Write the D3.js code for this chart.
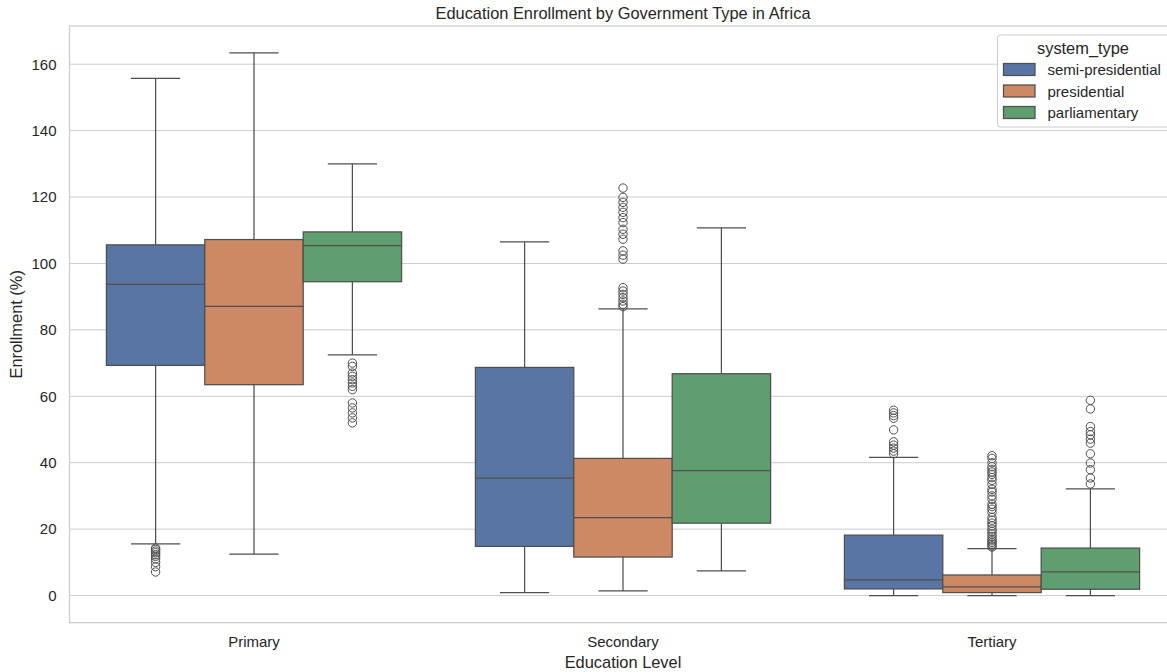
<!DOCTYPE html>
<html>
<head>
<meta charset="utf-8">
<script src="https://cdn.jsdelivr.net/npm/d3@7"></script>
<style>
  html, body { margin: 0; padding: 0; background: #fff; }
  svg { display: block; font-family: "Liberation Sans", Arial, Helvetica, sans-serif; }
</style>
</head>
<body>
<svg id="chart" width="1167" height="672"></svg>
<script>
// ---- data ----
const levels = ["Primary", "Secondary", "Tertiary"];
const systems = ["semi-presidential", "presidential", "parliamentary"];
const colors = ["#5875a4", "#cc8963", "#5f9e6e"];
const yTicks = [0, 20, 40, 60, 80, 100, 120, 140, 160];

// per system, values for [Primary, Secondary, Tertiary]
const whiskerLow = {
  "semi-presidential": [15.6, 0.9, 0.0],
  "presidential":      [12.5, 1.4, 0.0],
  "parliamentary":     [72.5, 7.4, 0.0]
};
const q1 = {
  "semi-presidential": [69.3, 14.8, 2.0],
  "presidential":      [63.5, 11.6, 0.9],
  "parliamentary":     [94.5, 21.8, 1.9]
};
const median = {
  "semi-presidential": [93.7, 35.4, 4.7],
  "presidential":      [87.1, 23.5, 2.6],
  "parliamentary":     [105.4, 37.6, 7.1]
};
const q3 = {
  "semi-presidential": [105.6, 68.7, 18.2],
  "presidential":      [107.2, 41.3, 6.2],
  "parliamentary":     [109.5, 66.8, 14.3]
};
const whiskerHigh = {
  "semi-presidential": [155.7, 106.5, 41.6],
  "presidential":      [163.4, 86.3, 14.1],
  "parliamentary":     [130.0, 110.7, 32.1]
};
const outliers = {
  "semi-presidential": [
    [14.3, 13.9, 13.4, 12.9, 12.3, 11.8, 11.0, 10.0, 8.7, 7.1],
    [],
    [55.8, 55.0, 54.2, 53.4, 49.9, 46.3, 45.3, 44.4, 43.5, 42.7]
  ],
  "presidential": [
    [],
    [122.7, 119.9, 118.4, 116.9, 115.4, 113.8, 112.3, 110.3, 108.8, 107.3,
     103.8, 102.5, 101.3, 92.7, 91.7, 90.7, 89.7, 88.7, 87.7, 87.0],
    [42.1, 41.3, 40.0, 38.8, 38.0, 37.2, 36.5, 35.5, 34.7, 33.5, 32.0, 31.2,
     30.0, 29.0, 27.5, 26.8, 26.0, 25.0, 23.5, 22.7, 21.8, 21.0, 20.0, 19.3,
     18.5, 17.8, 17.0, 16.5, 16.0, 15.5, 15.0, 14.6]
  ],
  "parliamentary": [
    [70.0, 69.0, 67.0, 66.0, 65.0, 64.0, 63.0, 62.0, 58.0, 56.5, 55.0, 53.5, 52.0],
    [],
    [58.8, 56.2, 50.9, 49.4, 48.4, 47.1, 45.9, 42.7, 39.9, 37.9, 35.4, 33.6]
  ]
};

// ---- layout ----
const svg = d3.select("#chart");
const plotLeft = 69.5, plotRight = 1176.5, plotTop = 26, plotBottom = 622.7;
const textColor = "#262626";
const lineColor = "#4f4f4f";
const gridColor = "#cccccc";
const fontFam = '"Liberation Sans", Arial, sans-serif';

const x = d3.scaleBand().domain(levels).range([plotLeft, plotRight]).paddingInner(0).paddingOuter(0);
const xSub = d3.scaleBand().domain(systems).range([-x.bandwidth() * 0.4, x.bandwidth() * 0.4]);
const y = d3.scaleLinear().domain([-8.17, 171.5]).range([plotBottom, plotTop]);

// grid
svg.append("g").selectAll("line").data(yTicks).join("line")
  .attr("x1", plotLeft).attr("x2", plotRight)
  .attr("y1", d => y(d)).attr("y2", d => y(d))
  .attr("stroke", gridColor).attr("stroke-width", 1);

// spines
svg.append("rect").attr("x", plotLeft).attr("y", plotTop)
  .attr("width", plotRight - plotLeft).attr("height", plotBottom - plotTop)
  .attr("fill", "none").attr("stroke", gridColor).attr("stroke-width", 1.25);

// y axis
const yAxis = d3.axisLeft(y).tickValues(yTicks).tickSize(0).tickPadding(13);
const gy = svg.append("g").attr("transform", `translate(${plotLeft},0)`).call(yAxis);
gy.select(".domain").remove();
gy.selectAll("text").attr("fill", textColor).style("font-size", "15px").style("font-family", fontFam);

// x axis
const xAxis = d3.axisBottom(x).tickSize(0).tickPadding(14);
const gx = svg.append("g").attr("transform", `translate(0,${plotBottom})`).call(xAxis);
gx.select(".domain").remove();
gx.selectAll("text").attr("fill", textColor).style("font-size", "15px").style("font-family", fontFam);

// boxes
const boxW = xSub.bandwidth();
const capW = boxW / 2;
systems.forEach((s, si) => {
  levels.forEach((lv, li) => {
    const cx = x(lv) + x.bandwidth() / 2 + xSub(s) + boxW / 2;
    const g = svg.append("g");
    // whiskers
    g.append("line").attr("x1", cx).attr("x2", cx)
      .attr("y1", y(q3[s][li])).attr("y2", y(whiskerHigh[s][li]))
      .attr("stroke", lineColor).attr("stroke-width", 1.25);
    g.append("line").attr("x1", cx).attr("x2", cx)
      .attr("y1", y(q1[s][li])).attr("y2", y(whiskerLow[s][li]))
      .attr("stroke", lineColor).attr("stroke-width", 1.25);
    [whiskerHigh[s][li], whiskerLow[s][li]].forEach(v => {
      g.append("line").attr("x1", cx - capW / 2).attr("x2", cx + capW / 2)
        .attr("y1", y(v)).attr("y2", y(v))
        .attr("stroke", lineColor).attr("stroke-width", 1.25);
    });
    // box
    g.append("rect").attr("x", cx - boxW / 2).attr("width", boxW)
      .attr("y", y(q3[s][li])).attr("height", y(q1[s][li]) - y(q3[s][li]))
      .attr("fill", colors[si]).attr("stroke", lineColor).attr("stroke-width", 1.25);
    // median
    g.append("line").attr("x1", cx - boxW / 2).attr("x2", cx + boxW / 2)
      .attr("y1", y(median[s][li])).attr("y2", y(median[s][li]))
      .attr("stroke", lineColor).attr("stroke-width", 1.25);
    // outliers
    g.selectAll("circle").data(outliers[s][li]).join("circle")
      .attr("cx", cx).attr("cy", d => y(d)).attr("r", 4.2)
      .attr("fill", "none").attr("stroke", lineColor).attr("stroke-width", 1);
  });
});

// title & labels
svg.append("text").attr("x", (plotLeft + plotRight) / 2).attr("y", 19)
  .attr("text-anchor", "middle").attr("fill", textColor).style("font-size", "16.4px")
  .text("Education Enrollment by Government Type in Africa");
svg.append("text").attr("x", (plotLeft + plotRight) / 2).attr("y", 668)
  .attr("text-anchor", "middle").attr("fill", textColor).style("font-size", "16.4px")
  .text("Education Level");
svg.append("text").attr("transform", `translate(22,${(plotTop + plotBottom) / 2}) rotate(-90)`)
  .attr("text-anchor", "middle").attr("fill", textColor).style("font-size", "16.4px")
  .text("Enrollment (%)");

// legend
const lg = svg.append("g");
lg.append("rect").attr("x", 997.5).attr("y", 35).attr("width", 175).attr("height", 92)
  .attr("rx", 3).attr("fill", "#ffffff").attr("fill-opacity", 0.85)
  .attr("stroke", gridColor).attr("stroke-width", 1);
lg.append("text").attr("x", 1083).attr("y", 53.5).attr("text-anchor", "middle")
  .attr("fill", textColor).style("font-size", "16.4px").text("system_type");
systems.forEach((s, i) => {
  const cy = 69.5 + i * 21.5;
  lg.append("rect").attr("x", 1003.5).attr("y", cy - 6).attr("width", 31.5).attr("height", 12)
    .attr("fill", colors[i]).attr("stroke", lineColor).attr("stroke-width", 1.25);
  lg.append("text").attr("x", 1047.5).attr("y", cy + 5.5)
    .attr("fill", textColor).style("font-size", "15px").text(s);
});
</script>
</body>
</html>
